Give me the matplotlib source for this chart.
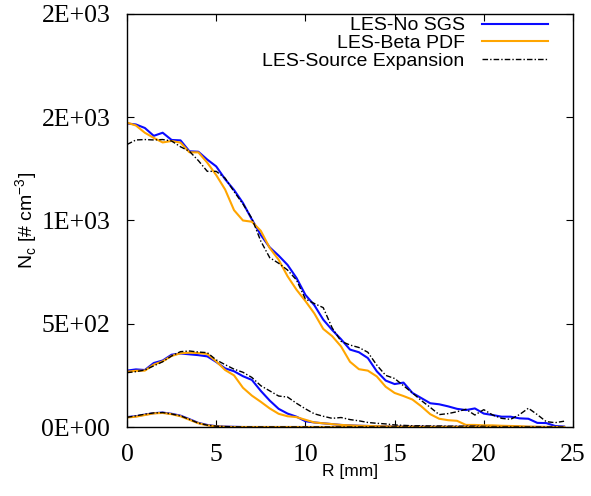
import matplotlib
matplotlib.use("Agg")
import matplotlib.pyplot as plt
from matplotlib.ticker import FuncFormatter, MultipleLocator

# radial positions [mm]
R = [0.0, 0.5, 1.0, 1.5, 2.0, 2.5, 3.0, 3.5, 4.0, 4.5,
     5.0, 5.5, 6.0, 6.5, 7.0, 7.5, 8.0, 8.5, 9.0, 9.5,
     10.0, 10.5, 11.0, 11.5, 12.0, 12.5, 13.0, 13.5, 14.0, 14.5,
     15.0, 15.5, 16.0, 16.5, 17.0, 17.5, 18.0, 18.5, 19.0, 19.5,
     20.0, 20.5, 21.0, 21.5, 22.0, 22.5, 23.0, 23.5, 24.0, 24.5]

# upper profiles
nosgs_hi = [1470, 1465, 1448, 1410, 1425, 1390, 1388, 1335, 1333, 1295,
            1262, 1200, 1148, 1085, 1005, 930, 870, 830, 785, 722,
            640, 590, 520, 470, 425, 375, 362, 334, 270, 225,
            208, 215, 165, 140, 115, 110, 100, 88, 82, 90,
            65, 58, 50, 50, 42, 40, 20, 19, 5, 2]
beta_hi = [1474, 1460, 1425, 1400, 1378, 1385, 1377, 1330, 1330, 1280,
           1220, 1150, 1050, 1000, 994, 950, 867, 810, 730, 665,
           610, 550, 475, 440, 390, 316, 280, 273, 245, 195,
           165, 150, 133, 100, 62, 40, 33, 30, 10, 10,
           8, 8, 6, 5, 4, 2, 1, 0, 0, 0]
srcexp_hi = [1368, 1390, 1392, 1390, 1392, 1385, 1357, 1335, 1290, 1238,
             1238, 1205, 1140, 1080, 1010, 900, 820, 793, 760, 712,
             620, 598, 578, 480, 415, 397, 385, 362, 300, 250,
             235, 200, 165, 128, 95, 60, 65, 74, 86, 58,
             84, 58, 42, 37, 60, 91, 60, 26, 21, 28]

# middle profiles
nosgs_mid = [273, 279, 276, 310, 322, 350, 356, 352, 348, 342,
             315, 284, 270, 246, 228, 175, 128, 88, 65, 50,
             28, 22, 18, 14, 10, 8, 6, 5, 4, 3,
             2, 2, 2, 2, 1, 1, 1, 1, 1, 1,
             0, 0, 0, 0, 0, 0, 0, 0, 0, 0]
beta_mid = [268, 272, 273, 302, 318, 344, 357, 360, 358, 354,
            318, 276, 250, 190, 152, 122, 90, 64, 52, 48,
            35, 22, 18, 14, 10, 8, 6, 5, 4, 3,
            2, 2, 2, 1, 1, 1, 1, 1, 0, 0,
            0, 0, 0, 0, 0, 0, 0, 0, 0, 0]
srcexp_mid = [263, 268, 276, 296, 316, 344, 365, 368, 363, 360,
              325, 302, 280, 265, 240, 200, 175, 150, 145, 115,
              88, 64, 52, 42, 46, 36, 30, 22, 18, 15,
              10, 8, 6, 6, 5, 5, 4, 4, 4, 4,
              3, 2, 1, 1, 0, 0, 0, 0, 0, 0]

# lower profiles
nosgs_lo = [48, 52, 60, 67, 70, 64, 55, 38, 20, 10,
            4, 2, 1, 0, 0, 0, 0, 0, 0, 0,
            0, 0, 0, 0, 0, 0, 0, 0, 0, 0,
            0, 0, 0, 0, 0, 0, 0, 0, 0, 0,
            0, 0, 0, 0, 0, 0, 0, 0, 0, 0]
beta_lo = [46, 50, 58, 66, 68, 62, 52, 35, 18, 8,
           3, 1, 0, 0, 0, 0, 0, 0, 0, 0,
           0, 0, 0, 0, 0, 0, 0, 0, 0, 0,
           0, 0, 0, 0, 0, 0, 0, 0, 0, 0,
           0, 0, 0, 0, 0, 0, 0, 0, 0, 0]
srcexp_lo = [47, 54, 62, 68, 70, 63, 54, 37, 19, 9,
             4, 2, 1, 0, 0, 0, 0, 0, 0, 0,
             0, 0, 0, 0, 0, 0, 0, 0, 0, 0,
             0, 0, 0, 0, 0, 0, 0, 0, 0, 0,
             0, 0, 0, 0, 0, 0, 0, 0, 0, 0]

BLUE = "#0a0aff"
ORANGE = "#ffa500"
DASHDOT = (0, (4, 1.5, 1, 1.5))

plt.rcParams.update({
    "font.family": "Liberation Sans",
    "xtick.direction": "in",
    "ytick.direction": "in",
    "xtick.top": True,
    "ytick.right": True,
})

fig = plt.figure(figsize=(5.91, 4.96), dpi=100)
ax = fig.add_axes([0.2149, 0.1391, 0.7546, 0.8327])

for i, (nosgs, beta, src) in enumerate([(nosgs_hi, beta_hi, srcexp_hi),
                                         (nosgs_mid, beta_mid, srcexp_mid),
                                         (nosgs_lo, beta_lo, srcexp_lo)]):
    ax.plot(R, nosgs, color=BLUE, lw=1.5, label="LES-No SGS" if i == 0 else None)
    ax.plot(R, beta, color=ORANGE, lw=1.5, label="LES-Beta PDF" if i == 0 else None)
    ax.plot(R, src, color="black", lw=1.0, linestyle=DASHDOT,
            label="LES-Source Expansion" if i == 0 else None)

ax.set_xlim(0, 25)
ax.set_ylim(0, 2000)
ax.xaxis.set_major_locator(MultipleLocator(5))
ax.yaxis.set_major_locator(MultipleLocator(500))
ax.yaxis.set_major_formatter(FuncFormatter(lambda v, p: "%.0E" % v))
ax.tick_params(length=5, width=0.8, pad=12)
for lab in ax.get_xticklabels() + ax.get_yticklabels():
    lab.set_family("Liberation Serif")
    lab.set_fontsize(18.5)
for s in ax.spines.values():
    s.set_linewidth(1.0)

ax.set_xlabel("R [mm]", fontsize=12.5, labelpad=-1)
ax.set_ylabel("N$_\\mathregular{c}$ [# cm$^\\mathregular{-3}$]", fontsize=14, labelpad=1)

ax.legend(loc="upper right", frameon=False, markerfirst=False, fontsize=14,
          handlelength=3.4, handletextpad=0.9, labelspacing=0.0,
          borderaxespad=0.0, bbox_to_anchor=(0.962, 1.012))

fig.savefig("out.png", dpi=100)
